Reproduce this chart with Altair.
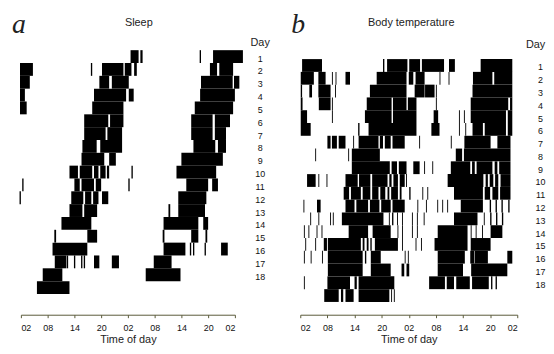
import altair as alt
import pandas as pd

FONT = "Liberation Sans"
TICK_HOURS = [2, 8, 14, 20, 26, 32, 38, 44, 50]
TICK_TEXT = ["02", "08", "14", "20", "02", "08", "14", "20", "02"]
DAY_LABELS = list(range(1, 19))

# Sleep episodes per plotted row (hours on a 48 h double-plot axis starting at 02:00)
sleep_rows = {
    1: [(26.6, 28.4), (28.8, 29.3), (42.1, 42.4), (45.1, 51.8)],
    2: [(1.8, 4.7), (17.7, 18.0), (20.2, 25.0), (25.3, 26.8), (27.4, 28.0), (44.4, 46.0), (46.5, 49.6)],
    3: [(1.8, 4.0), (19.6, 21.8), (22.4, 26.2), (42.4, 49.5), (49.8, 51.0)],
    4: [(1.8, 2.9), (18.4, 25.6), (26.2, 27.3), (42.2, 50.0)],
    5: [(1.8, 3.3), (18.0, 25.0), (41.0, 49.6)],
    6: [(16.2, 21.6), (22.0, 25.0), (40.2, 45.0), (45.5, 48.9)],
    7: [(16.2, 21.0), (21.4, 24.7), (40.2, 45.0), (45.5, 48.0)],
    8: [(15.8, 19.0), (19.8, 24.7), (40.7, 45.6), (46.2, 48.0)],
    9: [(15.6, 20.7), (21.8, 23.3), (38.0, 47.3)],
    10: [(12.9, 14.8), (15.2, 18.0), (18.4, 19.4), (19.8, 21.0), (21.3, 21.8), (26.8, 27.1), (36.9, 45.8)],
    11: [(2.3, 2.6), (14.0, 15.2), (15.6, 18.4), (18.8, 20.0), (26.1, 26.4), (39.1, 44.0), (44.9, 46.2)],
    12: [(1.7, 2.0), (13.3, 16.0), (16.4, 17.8), (18.2, 19.4), (20.2, 21.6), (37.3, 43.6)],
    13: [(12.9, 15.8), (16.2, 19.1), (35.1, 35.5), (37.3, 43.3)],
    14: [(11.1, 17.8), (34.0, 41.8), (42.9, 44.0)],
    15: [(9.5, 9.9), (16.9, 19.1), (33.8, 34.2), (40.2, 41.8), (43.4, 43.8)],
    16: [(9.1, 16.9), (34.0, 38.9), (39.9, 40.2), (40.6, 40.9), (43.2, 43.5), (46.9, 48.4)],
    17: [(9.6, 12.2), (12.3, 12.6), (13.9, 14.2), (15.5, 15.8), (16.1, 16.4), (18.4, 19.6), (22.4, 24.0), (31.8, 35.8)],
    18: [(6.9, 11.3), (30.0, 37.8)],
    19: [(5.6, 12.9)],
}

# Elevated body-temperature episodes per plotted row
temp_rows = {
    1: [(2.4, 6.8), (20.3, 20.6), (21.2, 25.7), (26.1, 28.5), (28.9, 33.8), (34.9, 36.2), (41.9, 48.9)],
    2: [(2.1, 5.0), (6.0, 7.6), (9.0, 9.2), (9.8, 10.0), (12.0, 13.0), (18.9, 25.5), (26.0, 27.0), (27.5, 29.5),
        (32.8, 33.0), (34.8, 35.0), (40.2, 44.5), (44.9, 48.9)],
    3: [(2.1, 2.4), (4.0, 4.6), (6.0, 8.7), (9.7, 9.9), (17.4, 25.5), (27.3, 29.5), (29.6, 31.7), (32.0, 32.2),
        (40.1, 48.9)],
    4: [(2.1, 2.5), (6.1, 8.7), (9.0, 9.2), (16.7, 22.2), (22.5, 25.5), (25.8, 27.7), (32.0, 32.2), (39.7, 48.0),
        (48.4, 48.9)],
    5: [(2.1, 3.5), (9.0, 9.2), (16.3, 22.2), (22.5, 27.7), (31.5, 32.5), (37.1, 37.3), (38.2, 38.4), (39.7, 47.5),
        (47.9, 48.9)],
    6: [(2.1, 4.3), (14.8, 15.1), (17.1, 27.7), (31.0, 32.8), (37.1, 37.3), (38.5, 38.7), (40.1, 42.4), (42.8, 47.5),
        (47.9, 48.9)],
    7: [(8.0, 8.7), (9.0, 10.1), (10.5, 12.0), (13.7, 13.9), (14.9, 19.3), (19.6, 20.3), (20.7, 22.0), (22.4, 25.1),
        (28.3, 28.5), (35.3, 35.5), (38.3, 44.1), (45.6, 48.5)],
    8: [(5.3, 5.5), (12.6, 12.8), (13.4, 19.6), (36.4, 37.8), (38.2, 48.5)],
    9: [(13.4, 21.8), (22.2, 23.4), (23.8, 25.5), (27.0, 28.4), (29.4, 29.6), (31.2, 31.4), (35.3, 39.6), (40.0, 40.6),
        (41.0, 44.5), (45.0, 45.6), (46.0, 48.5)],
    10: [(3.5, 5.4), (6.0, 6.2), (7.8, 8.0), (12.0, 14.7), (15.0, 17.5), (17.9, 21.3), (21.7, 22.2), (22.6, 23.6),
         (24.0, 25.1), (25.4, 25.6), (34.6, 42.5), (43.0, 43.5), (43.9, 44.7), (45.1, 45.8), (46.3, 48.5)],
    11: [(11.6, 12.8), (13.2, 15.4), (15.8, 17.5), (17.9, 19.3), (19.7, 20.8), (21.3, 21.7), (22.1, 23.6), (24.0, 24.4),
         (26.1, 26.4), (29.0, 29.2), (30.1, 30.3), (36.0, 42.4), (42.8, 44.0), (44.5, 45.8), (46.2, 48.5)],
    12: [(2.7, 2.9), (5.7, 6.5), (12.0, 14.0), (14.4, 17.0), (17.4, 19.5), (19.9, 22.0), (22.4, 25.1), (27.9, 28.1),
         (29.8, 30.0), (32.3, 32.5), (33.4, 33.6), (34.5, 34.7), (37.5, 42.4), (43.9, 44.2), (45.2, 45.5),
         (46.5, 46.8), (48.0, 48.3)],
    13: [(4.2, 4.4), (6.0, 6.2), (8.6, 8.8), (9.2, 9.4), (11.2, 20.4), (21.6, 21.8), (22.3, 22.6), (23.4, 23.6),
         (24.5, 24.7), (26.7, 26.9), (27.8, 28.0), (29.3, 29.5), (36.0, 41.2), (42.6, 42.8), (44.0, 44.3),
         (45.3, 45.6), (46.6, 46.9)],
    14: [(2.8, 3.0), (3.8, 4.0), (5.6, 5.8), (6.7, 6.9), (12.7, 17.0), (18.0, 22.0), (23.5, 23.7), (24.5, 24.7),
         (26.7, 26.9), (27.8, 28.0), (32.4, 39.0), (39.7, 39.9), (40.8, 41.0), (42.2, 42.4), (44.1, 46.7)],
    15: [(3.1, 3.3), (5.3, 5.5), (7.2, 7.9), (8.1, 15.4), (15.8, 16.2), (16.7, 17.1), (17.5, 17.8), (18.5, 23.6),
         (24.5, 24.7), (27.5, 27.7), (28.7, 28.9), (31.7, 39.0), (39.7, 44.1)],
    16: [(2.8, 3.0), (4.3, 4.5), (6.8, 7.0), (8.1, 15.8), (16.3, 16.6), (17.6, 19.8), (25.1, 25.3), (25.8, 26.0),
         (32.4, 38.4), (39.6, 40.5), (40.6, 43.5), (47.8, 48.9)],
    17: [(8.1, 15.8), (17.6, 22.0), (24.4, 25.0), (25.5, 26.1), (32.4, 38.0), (39.8, 47.8)],
    18: [(2.8, 3.0), (8.0, 13.0), (14.0, 14.5), (14.9, 22.8), (30.5, 34.0), (34.4, 36.0), (36.5, 39.5), (40.0, 43.7),
         (44.2, 44.5), (45.2, 45.5)],
    19: [(7.3, 10.5), (11.0, 11.5), (12.0, 13.8), (14.9, 21.7), (22.1, 22.3), (22.7, 22.9)],
}

label_expr = f"{TICK_TEXT}[indexof({TICK_HOURS}, datum.value)]"


def panel(rows, title, letter, width, d0, d1, title_x, day_pad, day_x, day_y):
    df = pd.DataFrame(
        [{"row": r, "start": s, "end": e} for r, segs in rows.items() for s, e in segs]
    )
    bars = (
        alt.Chart(df)
        .transform_calculate(top="datum.row - 0.5", bottom="datum.row + 0.5")
        .mark_rect(color="black")
        .encode(
            x=alt.X(
                "start:Q",
                scale=alt.Scale(domain=[2, 50], nice=False, zero=False),
                axis=alt.Axis(
                    values=TICK_HOURS, labelExpr=label_expr, title="Time of day",
                    grid=False, domain=True, domainColor="#5a5a3a", tickColor="#5a5a3a",
                    ticks=True, tickSize=3, labelFontSize=9, labelPadding=6,
                    labelColor="#111", labelFont=FONT, titleFont=FONT,
                    titleFontSize=11, titleFontWeight="normal", titleColor="#222",
                    titlePadding=1,
                ),
            ),
            x2="end:Q",
            y=alt.Y(
                "top:Q",
                scale=alt.Scale(domain=[d0, d1], reverse=True, nice=False, zero=False),
                axis=alt.Axis(
                    orient="right", values=DAY_LABELS, format="d", title="Day",
                    grid=False, domain=False, ticks=False, tickSize=0,
                    labelAlign="center", labelPadding=day_pad, labelFontSize=9,
                    labelOffset=1.5, labelColor="#111", labelFont=FONT,
                    titleAngle=0, titleX=day_x, titleY=day_y, titleAlign="center",
                    titleBaseline="middle", titleFont=FONT, titleFontSize=11,
                    titleFontWeight="normal", titleColor="#222",
                ),
            ),
            y2="bottom:Q",
        )
    )
    lab = (
        alt.Chart(pd.DataFrame({"t": [letter]}))
        .mark_text(font="Liberation Serif", fontStyle="italic", fontSize=28,
                   align="left", baseline="alphabetic", color="#222")
        .encode(text="t:N", x=alt.value(-9), y=alt.value(-13))
    )
    ttl = (
        alt.Chart(pd.DataFrame({"t": [title]}))
        .mark_text(font=FONT, fontSize=11, align="center", baseline="alphabetic",
                   color="#222")
        .encode(text="t:N", x=alt.value(title_x), y=alt.value(-20))
    )
    return alt.layer(bars, lab, ttl).properties(width=width, height=271)


pa = panel(sleep_rows, "Sleep", "a", 216, 0.191, 21.118, 119, 25, 25, -4)
pb = panel(temp_rows, "Body temperature", "b", 219, -0.508, 20.5, 112, 23, 18, -2)

chart = (
    alt.hconcat(pa, pb, spacing=22)
    .properties(padding={"left": 4, "top": 2, "right": 0, "bottom": -1}, background="white")
    .configure_view(stroke=None)
)

chart.save("out.html", embed_options={"renderer": "svg", "actions": False})
